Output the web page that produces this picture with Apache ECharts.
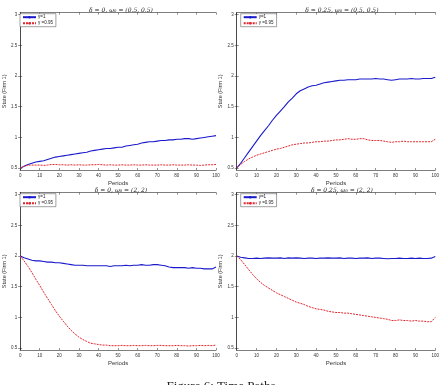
<!DOCTYPE html>
<html><head><meta charset="utf-8">
<script src="https://cdn.jsdelivr.net/npm/echarts@6/dist/echarts.min.js"></script>
<style>html,body{margin:0;padding:0;background:#fff}#c{width:442px;height:385px}</style>
</head><body><div id="c"></div>
<script>
const periods = [0,2,4,6,8,10,12,14,16,18,20,22,24,26,28,30,32,34,36,38,40,42,44,46,48,50,52,54,56,58,60,62,64,66,68,70,72,74,76,78,80,82,84,86,88,90,92,94,96,98,100];
const xTicks = [0,10,20,30,40,50,60,70,80,90,100];
const yTicks = [0.5,1,1.5,2,2.5,3];
const seriesNames = ['γ=1','γ =0.95'];
const panelTitles = ['δ = 0, ω₀ = (0.5, 0.5)','δ = 0.25, ω₀ = (0.5, 0.5)','δ = 0, ω₀ = (2, 2)','δ = 0.25, ω₀ = (2, 2)'];

const tlBlue = [0.50,0.53,0.56,0.58,0.60,0.61,0.62,0.64,0.66,0.68,
 0.69,0.70,0.71,0.72,0.73,0.74,0.75,0.76,0.78,0.79,
 0.80,0.81,0.82,0.82,0.83,0.84,0.84,0.86,0.87,0.88,
 0.89,0.91,0.92,0.93,0.93,0.94,0.95,0.95,0.96,0.96,
 0.97,0.97,0.98,0.98,0.97,0.98,0.99,1.00,1.01,1.02,
 1.03];
const tlRed = [0.50,0.53,0.55,0.55,0.55,0.55,0.545,0.55,0.56,0.56,
 0.555,0.555,0.55,0.555,0.55,0.555,0.55,0.55,0.555,0.555,
 0.56,0.555,0.55,0.555,0.55,0.55,0.555,0.55,0.55,0.555,
 0.55,0.55,0.555,0.55,0.55,0.55,0.555,0.55,0.55,0.555,
 0.55,0.55,0.55,0.555,0.55,0.55,0.545,0.55,0.555,0.555,
 0.56];
const trBlue = [0.50,0.58,0.67,0.76,0.85,0.94,1.03,1.11,1.19,1.28,
 1.36,1.43,1.50,1.58,1.64,1.71,1.76,1.79,1.82,1.84,
 1.85,1.87,1.89,1.90,1.91,1.92,1.93,1.93,1.94,1.94,
 1.94,1.95,1.95,1.95,1.95,1.96,1.95,1.95,1.94,1.93,
 1.94,1.95,1.95,1.95,1.96,1.95,1.95,1.96,1.96,1.96,
 1.98];
const trRed = [0.50,0.56,0.61,0.65,0.68,0.71,0.73,0.75,0.77,0.79,
 0.81,0.82,0.84,0.86,0.88,0.89,0.90,0.91,0.91,0.92,
 0.93,0.93,0.94,0.94,0.95,0.96,0.96,0.97,0.98,0.97,
 0.97,0.98,0.98,0.96,0.95,0.95,0.95,0.94,0.93,0.92,
 0.93,0.93,0.94,0.93,0.93,0.93,0.93,0.93,0.93,0.93,
 0.97];
const blBlue = [2.00,1.97,1.95,1.93,1.92,1.92,1.91,1.90,1.90,1.89,
 1.89,1.88,1.87,1.86,1.85,1.85,1.85,1.84,1.84,1.84,
 1.84,1.84,1.84,1.83,1.84,1.84,1.84,1.85,1.84,1.85,
 1.85,1.86,1.85,1.85,1.86,1.86,1.85,1.84,1.82,1.81,
 1.81,1.81,1.81,1.80,1.81,1.80,1.80,1.79,1.79,1.79,
 1.82];
const blRed = [2.00,1.92,1.83,1.73,1.62,1.52,1.41,1.31,1.21,1.11,
 1.02,0.94,0.86,0.79,0.73,0.68,0.64,0.61,0.58,0.57,
 0.56,0.55,0.55,0.54,0.54,0.54,0.545,0.54,0.54,0.545,
 0.54,0.54,0.545,0.54,0.54,0.545,0.545,0.54,0.54,0.54,
 0.545,0.54,0.54,0.535,0.54,0.54,0.545,0.54,0.545,0.54,
 0.55];
const brBlue = [2.00,1.98,1.97,1.96,1.96,1.965,1.96,1.965,1.97,1.965,
 1.965,1.97,1.96,1.97,1.965,1.97,1.965,1.96,1.965,1.965,
 1.96,1.965,1.965,1.97,1.965,1.965,1.97,1.96,1.965,1.965,
 1.96,1.965,1.965,1.97,1.96,1.965,1.965,1.96,1.955,1.96,
 1.96,1.965,1.96,1.96,1.965,1.96,1.965,1.96,1.96,1.965,
 1.99];
const brRed = [2.00,1.94,1.86,1.78,1.70,1.63,1.57,1.52,1.48,1.44,
 1.40,1.37,1.34,1.31,1.28,1.25,1.23,1.21,1.18,1.16,
 1.14,1.13,1.12,1.10,1.09,1.08,1.08,1.07,1.07,1.06,
 1.05,1.04,1.03,1.02,1.01,1.00,0.99,0.98,0.97,0.95,
 0.95,0.96,0.95,0.95,0.94,0.95,0.94,0.94,0.93,0.93,
 1.00];

const panels = [[tlBlue,tlRed],[trBlue,trRed],[blBlue,blRed],[brBlue,brRed]];
const rects = [
  {left:16, top:12.7, width:200, height:157.3},
  {left:236.7, top:12.7, width:200.3, height:157.3},
  {left:16, top:192.7, width:200, height:157.3},
  {left:236.7, top:192.7, width:200.3, height:157.3}
];
const axisCol = '#262626';
const labCol = '#333';
const grid=[], xAxis=[], yAxis=[], series=[], title=[], legend=[];
rects.forEach((r,i)=>{
  grid.push({left:r.left, top:r.top, width:r.width, height:r.height, show:false, containLabel:false});
  const common = {min:0,max:100,gridIndex:i,splitLine:{show:false}};
  xAxis.push(Object.assign({type:'value',position:'bottom',name:'Periods',nameLocation:'middle',nameGap:10,
    nameTextStyle:{fontSize:6,color:labCol,fontFamily:'Liberation Sans'},
    axisLine:{show:true,lineStyle:{color:axisCol,width:0.6}},
    axisTick:{inside:true,length:2,customValues:xTicks,lineStyle:{color:axisCol,width:0.5}},
    axisLabel:{customValues:xTicks,fontSize:4.5,color:labCol,margin:3,fontFamily:'Liberation Sans'}},common));
  xAxis.push(Object.assign({type:'value',position:'top',
    axisLine:{show:true,lineStyle:{color:axisCol,width:0.6}},
    axisTick:{inside:true,length:2,customValues:xTicks,lineStyle:{color:axisCol,width:0.5}},
    axisLabel:{show:false}},common));
  const yc = {min:0.47,max:3.03,gridIndex:i,splitLine:{show:false}};
  yAxis.push(Object.assign({type:'value',position:'left',name:'State (Firm 1)',nameLocation:'middle',nameGap:10,
    nameTextStyle:{fontSize:5.5,color:labCol,fontFamily:'Liberation Sans'},
    axisLine:{show:true,lineStyle:{color:axisCol,width:0.6}},
    axisTick:{inside:true,length:2,customValues:yTicks,lineStyle:{color:axisCol,width:0.5}},
    axisLabel:{customValues:yTicks,fontSize:4.5,color:labCol,margin:3,fontFamily:'Liberation Sans'}},yc));
  yAxis.push(Object.assign({type:'value',position:'right',
    axisLine:{show:true,lineStyle:{color:axisCol,width:0.6}},
    axisTick:{inside:true,length:2,customValues:yTicks,lineStyle:{color:axisCol,width:0.5}},
    axisLabel:{show:false}},yc));
  const [b,rd] = panels[i];
  series.push({type:'line',name:seriesNames[0],xAxisIndex:2*i,yAxisIndex:2*i,symbol:'none',
    data:periods.map((p,k)=>[p,b[k]]),lineStyle:{color:'#1a1acc',width:1.1},itemStyle:{color:'#1a1acc'}});
  series.push({type:'line',name:seriesNames[1],xAxisIndex:2*i,yAxisIndex:2*i,symbol:'none',
    data:periods.map((p,k)=>[p,rd[k]]),lineStyle:{color:'#e0262e',width:1,type:[2,1]},itemStyle:{color:'#e0262e'}});
  title.push({text:panelTitles[i],left:r.left+r.width/2,top:r.top-10,textAlign:'center',
    textStyle:{fontSize:6,fontWeight:'normal',color:'#222',fontFamily:'DejaVu Serif',fontStyle:'italic'}});
  legend.push({data:seriesNames,orient:'vertical',left:r.left+4,top:r.top+1,itemWidth:13,itemHeight:3,itemGap:1,
    padding:[1,3,1,2],borderColor:'#444',borderWidth:0.5,backgroundColor:'#fff',selectedMode:false,
    textStyle:{fontSize:4.5,color:'#222',fontFamily:'Liberation Sans',padding:[0,0,0,-3]}});
});
const chart = echarts.init(document.getElementById('c'),null,{renderer:'canvas'});
chart.setOption({animation:false,grid,xAxis,yAxis,series,title,legend,
  graphic:[{type:'text',left:'center',top:380,style:{text:'Figure 6: Time Paths',fontSize:13,fill:'#222',fontFamily:'Liberation Serif'}}]});
</script></body></html>
